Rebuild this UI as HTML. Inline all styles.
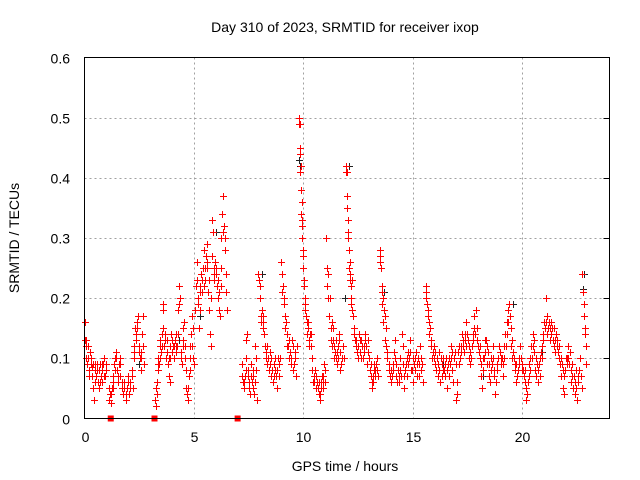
<!DOCTYPE html>
<html><head><meta charset="utf-8"><style>
body{margin:0;background:#fff}
svg{display:block;font-family:"Liberation Sans",sans-serif}
</style></head><body>
<svg id="chart" width="640" height="480" viewBox="0 0 640 480">
<rect width="640" height="480" fill="#fff"/>
<text x="345" y="32" font-size="14" text-anchor="middle" fill="#000">Day 310 of 2023, SRMTID for receiver ixop</text>
<text transform="translate(19,238) rotate(-90)" font-size="14" text-anchor="middle" fill="#000">SRMTID / TECUs</text>
<text x="345" y="471" font-size="14" text-anchor="middle" fill="#000">GPS time / hours</text>
<g id="grid"></g>
<g id="ticks"></g>
<g id="black"></g>
<g id="red"></g>
<rect x="84.5" y="57.5" width="525" height="361" fill="none" stroke="#000" stroke-width="1"/>
</svg>
<script>
const xTicks = [0,5,10,15,20];
const yTicks = [0,0.1,0.2,0.3,0.4,0.5,0.6];
const yTickLabels = ["0","0.1","0.2","0.3","0.4","0.5","0.6"];
const zeroMarks = [1.2,3.2,7.0];
const blackPoints = [[9.82,0.43],[9.85,0.42],[12.1,0.42],[6.0,0.31],[22.8,0.215],[22.82,0.24],[19.6,0.19],[5.3,0.17],[8.1,0.24],[11.9,0.2],[13.7,0.21],[4.3,0.13],[18.2,0.07],[16.4,0.09],[20.9,0.11],[2.5,0.09],[0.5,0.08]];
const redPoints = [
[0.02,0.16],[0.04,0.13],[0.07,0.12],[0.09,0.13],
[0.12,0.09],[0.16,0.10],[0.2,0.08],[0.24,0.11],[0.28,0.09],[0.32,0.085],[0.36,0.07],[0.4,0.05],[0.44,0.03],[0.47,0.09],[0.5,0.08],
[0.54,0.07],[0.58,0.08],[0.62,0.06],[0.66,0.05],[0.7,0.09],[0.74,0.07],[0.78,0.08],[0.82,0.06],[0.86,0.09],[0.9,0.1],[0.94,0.07],[0.98,0.08],
[1.12,0.03],[1.16,0.04],[1.2,0.025],[1.24,0.05],[1.28,0.06],[1.32,0.07],[1.36,0.09],[1.4,0.1],[1.44,0.11],[1.48,0.08],[1.52,0.06],[1.56,0.09],[1.6,0.1],
[1.64,0.07],[1.7,0.05],[1.76,0.04],[1.82,0.06],[1.88,0.03],[1.94,0.05],[2.0,0.07],[2.05,0.04],[2.1,0.06],[2.15,0.08],[2.2,0.05],
[2.24,0.1],[2.28,0.11],[2.32,0.15],[2.36,0.14],[2.4,0.16],[2.44,0.17],[2.48,0.12],[2.52,0.1],[2.56,0.08],[2.6,0.11],[2.64,0.14],[2.68,0.17],[2.7,0.09],
[3.22,0.03],[3.25,0.02],[3.28,0.05],[3.31,0.06],[3.34,0.09],[3.37,0.1],[3.4,0.09],[3.43,0.12],[3.46,0.13],[3.49,0.11],
[3.53,0.14],[3.57,0.18],[3.61,0.19],[3.65,0.12],[3.69,0.14],[3.73,0.1],[3.77,0.13],[3.81,0.09],[3.85,0.07],[3.89,0.06],[3.93,0.12],[3.97,0.14],[4.0,0.11],
[4.04,0.12],[4.08,0.1],[4.12,0.13],[4.16,0.14],[4.2,0.11],[4.24,0.12],[4.28,0.18],[4.32,0.22],[4.36,0.2],[4.4,0.1],[4.44,0.09],[4.48,0.12],[4.52,0.15],[4.56,0.16],
[4.6,0.1],[4.64,0.05],[4.68,0.04],[4.72,0.03],[4.76,0.07],[4.8,0.08],[4.84,0.12],[4.88,0.14],[4.92,0.17],[4.96,0.1],[5.0,0.09],
[5.1,0.22],[5.14,0.26],[5.18,0.2],[5.22,0.15],[5.26,0.18],[5.3,0.22],[5.34,0.24],[5.38,0.21],[5.42,0.25],[5.46,0.28],[5.5,0.23],
[5.54,0.27],[5.58,0.29],[5.62,0.25],[5.66,0.21],[5.7,0.18],[5.74,0.14],[5.78,0.12],[5.82,0.33],[5.86,0.31],[5.9,0.25],[5.94,0.23],[5.98,0.26],
[6.02,0.24],[6.06,0.22],[6.1,0.2],[6.14,0.18],[6.18,0.17],[6.22,0.25],[6.26,0.3],[6.3,0.34],[6.34,0.37],[6.38,0.32],[6.42,0.28],[6.46,0.21],[6.5,0.18],
[7.2,0.09],[7.24,0.06],[7.28,0.05],[7.32,0.07],[7.36,0.08],[7.4,0.13],[7.44,0.14],[7.48,0.07],[7.52,0.05],[7.56,0.04],[7.6,0.09],[7.64,0.06],[7.68,0.07],[7.72,0.05],[7.76,0.04],
[7.8,0.12],[7.84,0.08],[7.88,0.03],[7.95,0.24],[7.98,0.23],[8.02,0.2],[8.06,0.17],[8.1,0.18],[8.14,0.15],[8.18,0.16],
[8.24,0.12],[8.3,0.1],[8.36,0.09],[8.42,0.08],[8.48,0.11],[8.54,0.07],[8.6,0.06],[8.66,0.09],[8.72,0.08],[8.78,0.05],[8.84,0.1],[8.9,0.07],
[9.0,0.26],[9.04,0.24],[9.08,0.22],[9.12,0.2],[9.16,0.17],[9.2,0.16],[9.24,0.14],[9.3,0.12],[9.36,0.1],[9.42,0.09],[9.48,0.13],[9.54,0.08],[9.6,0.11],[9.66,0.07],
[9.8,0.5],[9.83,0.49],[9.86,0.44],[9.88,0.42],[9.9,0.38],[9.92,0.36],[9.94,0.33],[9.96,0.3],[9.98,0.28],[10.0,0.25],[10.03,0.22],[10.06,0.2],[10.1,0.18],
[10.15,0.16],[10.2,0.15],[10.25,0.13],[10.3,0.14],[10.35,0.12],[10.4,0.1],[10.45,0.06],[10.5,0.07],[10.55,0.08],[10.6,0.05],[10.65,0.06],
[10.7,0.04],[10.75,0.03],[10.8,0.05],[10.85,0.07],[10.9,0.06],[10.95,0.09],[11.0,0.08],[11.05,0.3],[11.1,0.25],[11.15,0.24],[11.2,0.2],
[11.25,0.15],[11.3,0.16],[11.35,0.13],[11.4,0.12],[11.45,0.11],[11.5,0.1],[11.55,0.09],[11.6,0.12],[11.65,0.14],[11.7,0.08],[11.75,0.1],
[11.95,0.42],[11.98,0.41],[12.0,0.37],[12.03,0.33],[12.05,0.3],[12.08,0.28],[12.1,0.25],[12.13,0.23],[12.16,0.22],[12.2,0.19],[12.25,0.18],
[12.3,0.15],[12.36,0.13],[12.42,0.12],[12.48,0.1],[12.54,0.14],[12.6,0.11],[12.66,0.13],[12.72,0.1],[12.78,0.12],[12.84,0.14],[12.9,0.09],[12.96,0.13],
[13.05,0.08],[13.1,0.07],[13.15,0.05],[13.2,0.06],[13.25,0.09],[13.3,0.08],[13.35,0.1],[13.4,0.07],
[13.5,0.28],[13.53,0.27],[13.56,0.25],[13.6,0.22],[13.64,0.2],[13.68,0.18],[13.72,0.17],[13.76,0.15],[13.8,0.12],[13.85,0.1],
[13.9,0.08],[13.96,0.07],[14.02,0.06],[14.08,0.09],[14.14,0.11],[14.2,0.13],[14.26,0.07],[14.32,0.08],[14.38,0.06],[14.44,0.1],[14.5,0.14],[14.56,0.12],[14.62,0.05],[14.68,0.09],[14.74,0.07],[14.8,0.11],[14.86,0.13],[14.92,0.08],
[14.98,0.08],[15.04,0.06],[15.1,0.1],[15.16,0.11],[15.22,0.07],[15.28,0.09],[15.34,0.12],[15.4,0.08],[15.46,0.06],
[15.6,0.22],[15.63,0.21],[15.66,0.19],[15.7,0.17],[15.74,0.16],[15.78,0.15],[15.82,0.13],
[15.9,0.1],[15.96,0.12],[16.02,0.09],[16.08,0.08],[16.14,0.07],[16.2,0.11],[16.26,0.06],[16.32,0.09],[16.38,0.1],[16.44,0.08],[16.5,0.07],[16.56,0.05],[16.62,0.09],[16.68,0.1],[16.74,0.12],[16.8,0.08],[16.86,0.06],[16.92,0.11],
[17.0,0.03],[17.05,0.04],[17.1,0.09],[17.16,0.1],[17.22,0.12],[17.28,0.13],[17.34,0.11],[17.4,0.14],[17.46,0.16],[17.52,0.13],[17.58,0.1],[17.64,0.09],[17.7,0.12],[17.76,0.13],[17.82,0.17],[17.88,0.18],[17.94,0.15],
[18.0,0.12],[18.06,0.1],[18.12,0.07],[18.18,0.05],[18.24,0.08],[18.3,0.11],[18.36,0.13],[18.42,0.09],[18.48,0.07],[18.54,0.06],[18.6,0.1],[18.66,0.12],[18.72,0.08],[18.78,0.04],[18.84,0.09],[18.9,0.1],
[19.0,0.11],[19.06,0.09],[19.12,0.07],[19.18,0.12],[19.24,0.14],[19.3,0.16],[19.36,0.18],[19.42,0.19],[19.48,0.15],[19.54,0.13],[19.6,0.11],[19.66,0.09],[19.72,0.06],[19.78,0.07],[19.84,0.1],[19.9,0.12],
[20.0,0.09],[20.06,0.08],[20.12,0.06],[20.18,0.03],[20.24,0.04],[20.3,0.07],[20.36,0.1],[20.42,0.12],[20.48,0.14],[20.54,0.11],[20.6,0.08],[20.66,0.07],[20.72,0.06],[20.78,0.09],[20.84,0.1],
[20.9,0.12],[20.96,0.14],[21.02,0.16],[21.08,0.2],[21.14,0.17],[21.2,0.15],[21.26,0.13],[21.32,0.16],[21.38,0.15],[21.44,0.12],[21.5,0.11],[21.56,0.14],[21.62,0.13],[21.68,0.1],
[21.74,0.09],[21.8,0.07],[21.86,0.05],[21.92,0.04],[21.98,0.08],[22.04,0.1],[22.1,0.12],[22.16,0.09],[22.22,0.06],[22.28,0.07],[22.34,0.05],[22.4,0.04],[22.46,0.08],[22.52,0.03],[22.58,0.06],[22.64,0.1],
[22.76,0.24],[22.79,0.21],[22.82,0.19],[22.85,0.17],[22.88,0.15],[22.92,0.12]
];
const redPointsExtra = [
[0.06,0.1],[0.14,0.12],[0.22,0.07],[0.3,0.1],[0.38,0.09],[0.46,0.06],[0.56,0.09],[0.64,0.08],[0.72,0.06],[0.8,0.09],[0.88,0.07],[0.96,0.09],
[1.14,0.05],[1.22,0.04],[1.3,0.05],[1.38,0.08],[1.46,0.1],[1.54,0.07],[1.62,0.09],[1.72,0.06],[1.8,0.05],[1.9,0.04],[1.98,0.06],[2.08,0.05],[2.18,0.07],
[2.26,0.12],[2.34,0.13],[2.42,0.15],[2.5,0.11],[2.58,0.1],[2.66,0.12],
[3.3,0.04],[3.38,0.08],[3.45,0.1],[3.52,0.12],[3.6,0.15],[3.68,0.13],[3.76,0.11],[3.84,0.1],[3.92,0.1],[4.02,0.13],[4.1,0.12],[4.18,0.12],[4.26,0.14],[4.34,0.19],[4.42,0.11],[4.5,0.13],[4.58,0.12],[4.66,0.08],[4.74,0.05],[4.82,0.1],[4.9,0.12],[4.98,0.15],
[5.06,0.18],[5.12,0.23],[5.2,0.19],[5.28,0.21],[5.36,0.23],[5.44,0.22],[5.52,0.25],[5.6,0.26],[5.68,0.23],[5.76,0.2],[5.84,0.27],[5.92,0.24],[6.0,0.25],[6.08,0.23],[6.16,0.21],[6.24,0.22],[6.32,0.31],[6.4,0.3],[6.48,0.24],
[7.22,0.07],[7.3,0.06],[7.38,0.1],[7.46,0.08],[7.54,0.06],[7.62,0.07],[7.7,0.08],[7.78,0.06],[7.86,0.1],[8.0,0.22],[8.08,0.16],[8.16,0.17],[8.2,0.14],
[8.28,0.11],[8.34,0.12],[8.4,0.1],[8.46,0.09],[8.52,0.1],[8.58,0.08],[8.64,0.07],[8.7,0.1],[8.76,0.07],[8.82,0.08],[8.88,0.09],[8.94,0.1],
[9.02,0.21],[9.1,0.19],[9.18,0.15],[9.26,0.12],[9.34,0.13],[9.4,0.11],[9.46,0.1],[9.52,0.12],[9.58,0.09],[9.64,0.1],[9.7,0.12],
[9.81,0.49],[9.84,0.45],[9.87,0.41],[9.91,0.34],[9.95,0.32],[9.99,0.27],[10.02,0.23],[10.08,0.19],[10.12,0.17],[10.18,0.14],[10.22,0.16],[10.28,0.12],[10.34,0.14],[10.42,0.08],[10.48,0.06],[10.58,0.07],
[10.68,0.05],[10.72,0.06],[10.78,0.04],[10.82,0.06],[10.88,0.05],[10.92,0.07],[10.98,0.06],[11.08,0.22],[11.12,0.2],[11.18,0.17],
[11.28,0.13],[11.32,0.12],[11.38,0.15],[11.42,0.1],[11.48,0.13],[11.52,0.11],[11.58,0.1],[11.62,0.13],[11.68,0.11],[11.72,0.09],[11.8,0.12],[11.86,0.1],
[11.96,0.41],[12.02,0.35],[12.06,0.31],[12.12,0.26],[12.15,0.24],[12.18,0.2],[12.22,0.23],[12.28,0.17],[12.34,0.14],[12.4,0.13],[12.46,0.11],[12.52,0.12],[12.58,0.13],[12.64,0.1],[12.7,0.12],[12.76,0.11],[12.82,0.13],[12.88,0.12],[12.94,0.11],[13.0,0.1],
[13.08,0.09],[13.12,0.06],[13.18,0.07],[13.22,0.08],[13.28,0.07],[13.32,0.09],[13.38,0.08],[13.52,0.26],[13.58,0.21],[13.62,0.19],[13.66,0.16],[13.74,0.13],[13.82,0.11],
[13.92,0.09],[14.0,0.08],[14.06,0.07],[14.12,0.08],[14.18,0.1],[14.24,0.09],[14.3,0.06],[14.36,0.07],[14.42,0.08],[14.48,0.07],[14.54,0.09],[14.6,0.07],[14.66,0.08],[14.72,0.1],[14.78,0.09],[14.84,0.1],[14.9,0.11],
[15.0,0.1],[15.06,0.09],[15.12,0.08],[15.18,0.09],[15.24,0.1],[15.3,0.07],[15.36,0.1],[15.42,0.09],[15.62,0.2],[15.68,0.18],[15.76,0.14],[15.84,0.12],
[15.92,0.11],[15.98,0.1],[16.04,0.11],[16.1,0.1],[16.16,0.09],[16.22,0.08],[16.28,0.1],[16.34,0.07],[16.4,0.08],[16.46,0.09],[16.52,0.1],[16.58,0.08],[16.64,0.07],[16.7,0.09],[16.76,0.1],[16.82,0.11],[16.88,0.1],[16.96,0.09],
[17.02,0.06],[17.08,0.11],[17.14,0.12],[17.2,0.11],[17.26,0.14],[17.32,0.12],[17.38,0.13],[17.44,0.12],[17.5,0.14],[17.56,0.12],[17.62,0.11],[17.68,0.1],[17.74,0.14],[17.8,0.15],[17.86,0.14],[17.92,0.13],
[18.02,0.11],[18.08,0.12],[18.14,0.09],[18.2,0.1],[18.26,0.1],[18.32,0.13],[18.38,0.12],[18.44,0.11],[18.5,0.09],[18.56,0.08],[18.62,0.09],[18.68,0.1],[18.74,0.07],[18.8,0.06],[18.86,0.08],[18.94,0.12],
[19.02,0.1],[19.08,0.1],[19.14,0.09],[19.2,0.1],[19.26,0.12],[19.32,0.14],[19.38,0.16],[19.44,0.17],[19.5,0.12],[19.56,0.1],[19.62,0.1],[19.68,0.08],[19.74,0.09],[19.8,0.08],[19.86,0.09],[19.94,0.1],
[20.02,0.08],[20.08,0.07],[20.14,0.08],[20.2,0.05],[20.26,0.06],[20.32,0.09],[20.38,0.08],[20.44,0.1],[20.5,0.12],[20.56,0.13],[20.62,0.1],[20.68,0.09],[20.74,0.08],[20.8,0.07],[20.86,0.11],
[20.92,0.1],[20.98,0.13],[21.04,0.15],[21.1,0.16],[21.16,0.14],[21.22,0.16],[21.28,0.15],[21.34,0.14],[21.4,0.13],[21.46,0.15],[21.52,0.13],[21.58,0.12],[21.64,0.11],[21.7,0.12],
[21.76,0.1],[21.82,0.09],[21.88,0.08],[21.94,0.07],[22.0,0.1],[22.06,0.09],[22.12,0.1],[22.18,0.11],[22.24,0.08],[22.3,0.09],[22.36,0.07],[22.42,0.06],[22.48,0.05],[22.54,0.07],[22.6,0.08],[22.68,0.07],[22.72,0.05],[22.9,0.14],[22.94,0.09]
];
const NS='http://www.w3.org/2000/svg';
const X0=84.5,X1=609.5,Y0=418.5,Y1=57.5,XMAX=24,YMAX=0.6;
function sx(t){return X0+(t/XMAX)*(X1-X0);}
function sy(v){return Y0-(v/YMAX)*(Y0-Y1);}
function mk(tag,attrs,parent){const e=document.createElementNS(NS,tag);for(const k in attrs)e.setAttribute(k,attrs[k]);parent.appendChild(e);return e;}
const grid=document.getElementById('grid'),ticks=document.getElementById('ticks');
xTicks.forEach(t=>{
  const x=Math.round(sx(t))+0.5;
  if(t>0){const g=mk('line',{x1:x,x2:x,y1:Y1,y2:Y0,stroke:'#a0a0a0','stroke-dasharray':'2,3'},grid);
  
  }
  const l=mk('text',{x:x,y:442,'font-size':14,'text-anchor':'middle',fill:'#000'},ticks);l.textContent=t;
  
  
});
yTicks.forEach((v,i)=>{
  const y=Math.round(sy(v))+0.5;
  if(v>0&&v<YMAX){const g=mk('line',{x1:X0,x2:X1,y1:y,y2:y,stroke:'#a0a0a0','stroke-dasharray':'2,3'},grid);
  
  
  const tk=mk('line',{x1:X1-6,x2:X1,y1:y,y2:y,stroke:'#000'},ticks);
  
  }
  const l=mk('text',{x:70,y:y+5,'font-size':14,'text-anchor':'end',fill:'#000'},ticks);l.textContent=yTickLabels[i];
  
  
});
function plus(g,t,v,c){
  const x=Math.round(sx(t))+0.5,y=Math.round(sy(v))+0.5;
  const p=mk('path',{d:`M${x-3.5} ${y}H${x+3.5}M${x} ${y-3.5}V${y+3.5}`,stroke:c,'stroke-width':1,fill:'none'},g);
  
  
}
const bg=document.getElementById('black'),rg=document.getElementById('red');
blackPoints.forEach(p=>plus(bg,p[0],p[1],'#222'));
redPoints.forEach(p=>plus(rg,p[0],p[1],'#f00'));
redPointsExtra.forEach(p=>plus(rg,p[0],p[1],'#f00'));
zeroMarks.forEach(t=>{
  const r=mk('rect',{x:sx(t)-3,y:Y0-3,width:6,height:6,fill:'#f00'},rg);
  
  
});
</script>
</body></html>
